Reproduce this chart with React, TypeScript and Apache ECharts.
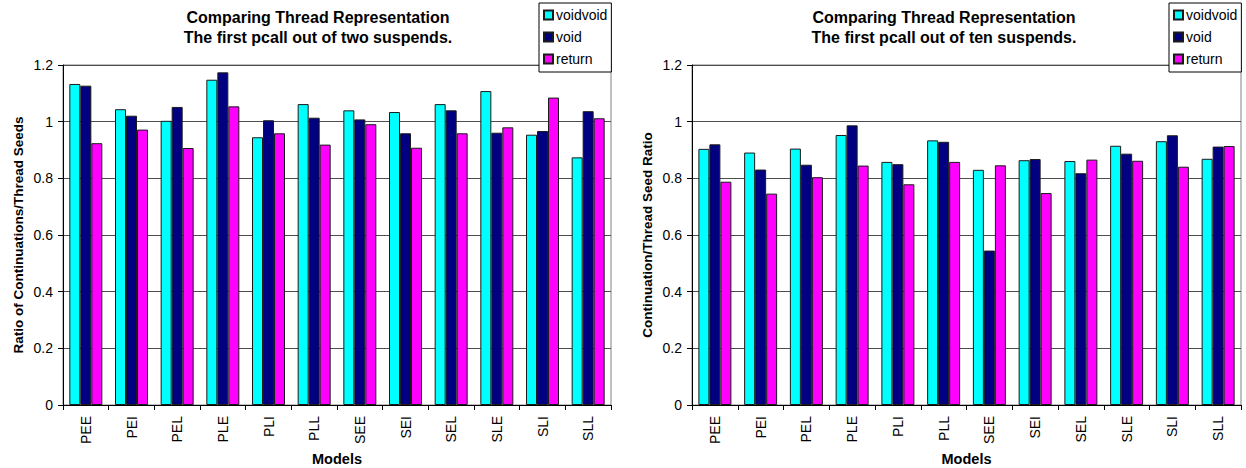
import React, { useEffect, useRef } from "react";
import * as echarts from "echarts";

// Thread-representation comparison: two panels, one per suspend ratio.
const models = ["PEE", "PEI", "PEL", "PLE", "PLI", "PLL", "SEE", "SEI", "SEL", "SLE", "SLI", "SLL"];
const seriesNames = ["voidvoid", "void", "return"];
const seriesColors = ["#00FFFF", "#000080", "#FF00FF"];

// First pcall out of two suspends
const twoVoidvoid = [1.133, 1.044, 1.003, 1.148, 0.945, 1.062, 1.04, 1.034, 1.062, 1.108, 0.954, 0.874];
const twoVoid = [1.127, 1.021, 1.052, 1.174, 1.005, 1.014, 1.008, 0.959, 1.04, 0.961, 0.967, 1.037];
const twoReturn = [0.924, 0.972, 0.907, 1.054, 0.959, 0.919, 0.991, 0.908, 0.959, 0.98, 1.085, 1.012];

// First pcall out of ten suspends
const tenVoidvoid = [0.904, 0.891, 0.905, 0.953, 0.858, 0.934, 0.83, 0.864, 0.861, 0.915, 0.931, 0.869];
const tenVoid = [0.92, 0.831, 0.848, 0.987, 0.85, 0.929, 0.545, 0.868, 0.818, 0.887, 0.952, 0.912];
const tenReturn = [0.788, 0.746, 0.804, 0.845, 0.779, 0.858, 0.846, 0.748, 0.866, 0.862, 0.841, 0.914];

const yMin = 0;
const yMax = 1.2;
const yStep = 0.2;

const FONT = "'Liberation Sans', Arial, Helvetica, sans-serif";

const panels = [
  {
    title: "Comparing Thread Representation\nThe first pcall out of two suspends.",
    yName: "Ratio of Continuations/Thread Seeds",
    data: [twoVoidvoid, twoVoid, twoReturn],
    grid: { left: 63, top: 65, width: 548, height: 340 },
    titleX: 318,
    legend: { left: 539, top: 3 },
  },
  {
    title: "Comparing Thread Representation\nThe first pcall out of ten suspends.",
    yName: "Continuation/Thread Seed Ratio",
    data: [tenVoidvoid, tenVoid, tenReturn],
    grid: { left: 692, top: 65, width: 549, height: 340 },
    titleX: 944,
    legend: { left: 1169, top: 3 },
  },
];

export default function App() {
  const ref = useRef<HTMLDivElement>(null);

  useEffect(() => {
    if (!ref.current) return;
    const chart = echarts.init(ref.current, null, { renderer: "svg" });

    const option: any = {
      animation: false,
      backgroundColor: "#ffffff",
      textStyle: { fontFamily: FONT, color: "#000" },
      title: panels.map((p) => ({
        text: p.title,
        left: p.titleX,
        top: 7,
        textAlign: "center",
        padding: 0,
        textStyle: {
          fontFamily: FONT,
          fontSize: 16,
          fontWeight: "bold",
          color: "#000",
          lineHeight: 20,
        },
      })),
      legend: panels.map((p) => ({
        data: seriesNames,
        orient: "vertical",
        left: p.legend.left,
        top: p.legend.top,
        padding: [5, 4, 6, 4],
        itemGap: 8,
        itemWidth: 9,
        itemHeight: 9,
        icon: "rect",
        borderColor: "#000",
        borderWidth: 1,
        backgroundColor: "#fff",
        selectedMode: false,
        textStyle: { fontFamily: FONT, fontSize: 14, color: "#000", padding: [0, 0, 0, -2] },
      })),
      grid: panels.map((p) => ({
        ...p.grid,
        show: true,
        borderColor: "#808080",
        borderWidth: 1,
        backgroundColor: "transparent",
        containLabel: false,
        outerBoundsMode: "none",
      })),
      xAxis: panels.map((_, i) => ({
        type: "category",
        gridIndex: i,
        data: models,
        name: "Models",
        nameLocation: "middle",
        nameGap: 46,
        nameTextStyle: { fontFamily: FONT, fontSize: 14.5, fontWeight: "bold", color: "#000" },
        axisLine: { show: true, lineStyle: { color: "#000", width: 1 } },
        axisTick: { show: true, length: 5, inside: false, alignWithLabel: false, lineStyle: { color: "#000" } },
        axisLabel: {
          rotate: 90,
          margin: 11,
          interval: 0,
          fontFamily: FONT,
          fontSize: 14,
          color: "#000",
        },
        splitLine: { show: false },
      })),
      yAxis: panels.map((p, i) => ({
        type: "value",
        gridIndex: i,
        min: yMin,
        max: yMax,
        interval: yStep,
        name: p.yName,
        nameLocation: "middle",
        nameRotate: 90,
        nameGap: 38,
        nameTextStyle: { fontFamily: FONT, fontSize: 13.5, fontWeight: "bold", color: "#000" },
        axisLine: { show: true, lineStyle: { color: "#000", width: 1 } },
        axisTick: { show: true, length: 5, inside: false, lineStyle: { color: "#000" } },
        axisLabel: { margin: 10, fontFamily: FONT, fontSize: 14, color: "#000" },
        splitLine: { show: true, lineStyle: { color: "#4d4d4d", width: 1 } },
      })),
      series: panels.flatMap((p, gi) =>
        seriesNames.map((name, si) => ({
          name,
          type: "bar",
          xAxisIndex: gi,
          yAxisIndex: gi,
          data: p.data[si],
          barWidth: 11,
          barGap: "0%",
          itemStyle: { color: seriesColors[si], borderColor: "#1a1a1a", borderWidth: 1 },
          emphasis: { disabled: true },
        }))
      ),
    };

    chart.setOption(option);
    return () => chart.dispose();
  }, []);

  return (
    <div
      ref={ref}
      style={{ position: "fixed", left: 0, top: 0, width: 1246, height: 468, background: "#fff" }}
    />
  );
}
